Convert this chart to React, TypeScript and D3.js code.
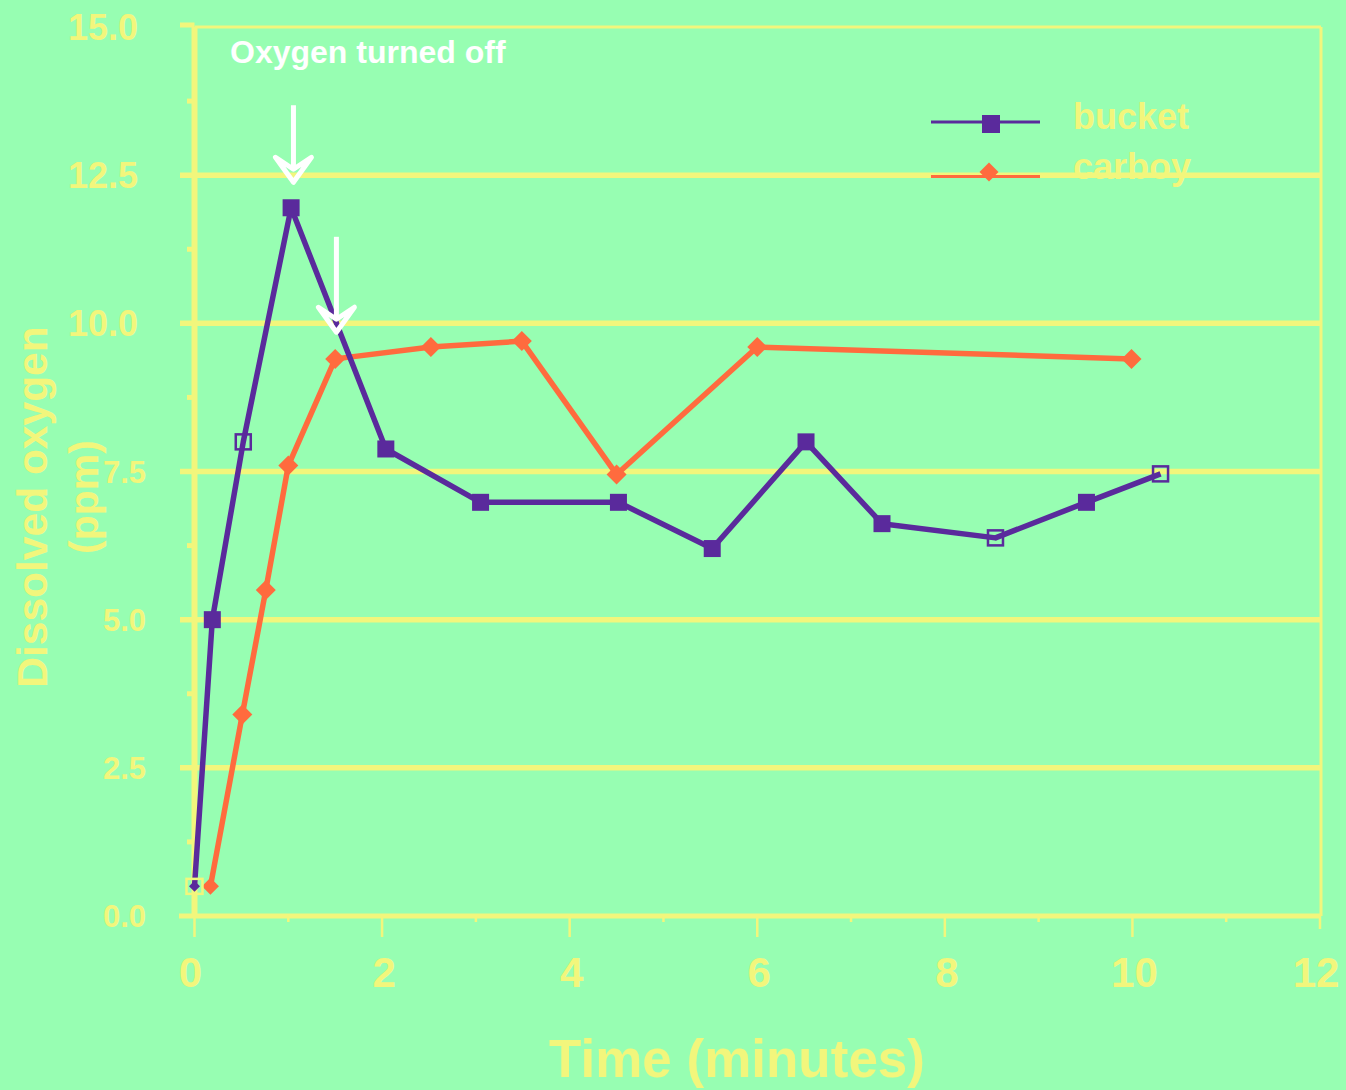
import React from "react";
import * as d3 from "d3";

// Dissolved oxygen readings (ppm) over time (minutes)
const bucketTimes = [0, 0.19, 0.52, 1.03, 2.04, 3.05, 4.52, 5.52, 6.52, 7.33, 8.54, 9.51, 10.3];
const bucketValues = [0.5, 5.0, 8.0, 11.95, 7.88, 6.98, 6.98, 6.2, 8.0, 6.62, 6.38, 6.98, 7.46];
const bucketMarkers = [
  "start", "filled", "hollow", "filled", "filled", "filled", "filled",
  "filled", "filled", "filled", "hollow", "filled", "hollow",
];

const carboyTimes = [0.17, 0.51, 0.76, 1.0, 1.5, 2.52, 3.49, 4.5, 6.0, 9.99];
const carboyValues = [0.5, 3.4, 5.5, 7.6, 9.4, 9.6, 9.7, 7.45, 9.6, 9.4];

const yTickValues = [0, 2.5, 5, 7.5, 10, 12.5, 15];
const yMinorValues = [1.25, 3.75, 6.25, 8.75, 11.25, 13.75];
const xTickValues = [0, 2, 4, 6, 8, 10, 12];
const xMinorValues = [1, 3, 5, 7, 9, 11];

const legendLabels = ["bucket", "carboy"];

// "Oxygen turned off" arrows: time, shaft top value, tip value
const arrowTimes = [1.055, 1.513];
const arrowTopValues = [13.68, 11.46];
const arrowTipValues = [12.38, 9.85];

const BG = "#97FEB2";
const YELLOW = "#F2F67C";
const PURPLE = "#5A2A9C";
const ORANGE = "#FF6B3E";
const FONT = "'Liberation Sans', Arial, Helvetica, sans-serif";

export default function App() {
  const width = 1346;
  const height = 1090;
  const x = d3.scaleLinear().domain([0, 12]).range([194.5, 1320]);
  const y = d3.scaleLinear().domain([0, 15]).range([916, 27]);

  const bucketPts: [number, number][] = bucketTimes.map((t, i) => [t, bucketValues[i]]);
  const carboyPts: [number, number][] = carboyTimes.map((t, i) => [t, carboyValues[i]]);
  const line = d3
    .line<[number, number]>()
    .x((d) => x(d[0]))
    .y((d) => y(d[1]));

  const diamond = (cx: number, cy: number, r: number) =>
    `M${cx},${cy - r}L${cx + r},${cy}L${cx},${cy + r}L${cx - r},${cy}Z`;

  const left = x(0);
  const right = x(12);
  const top = y(15);
  const bottom = y(0);

  return (
    <div style={{ position: "absolute", left: 0, top: 0, width, height, background: BG }}>
      <svg width={width} height={height} style={{ display: "block" }} fontFamily={FONT}>
        <rect x={0} y={0} width={width} height={height} fill={BG} />

        {/* horizontal gridlines with their left ticks */}
        {yTickValues
          .filter((v) => v > 0 && v < 15)
          .map((v) => (
            <line key={"g" + v} x1={180} x2={right} y1={y(v)} y2={y(v)} stroke={YELLOW} strokeWidth={5.5} />
          ))}
        {/* top tick and border */}
        <line x1={180} x2={left} y1={y(15) - 2} y2={y(15) - 2} stroke={YELLOW} strokeWidth={5} />
        <line x1={left} x2={right + 1} y1={top} y2={top} stroke={YELLOW} strokeWidth={3} />
        <line x1={right + 1} x2={right + 1} y1={top} y2={bottom} stroke={YELLOW} strokeWidth={3} />
        {yMinorValues.map((v) => (
          <line key={"ym" + v} x1={187} x2={left} y1={y(v)} y2={y(v)} stroke={YELLOW} strokeWidth={5} />
        ))}

        {/* axes */}
        <line x1={left} x2={left} y1={top} y2={bottom} stroke={YELLOW} strokeWidth={6} />
        <line x1={179} x2={right + 1} y1={bottom} y2={bottom} stroke={YELLOW} strokeWidth={5} />
        {xTickValues.map((v) => (
          <line
            key={"xt" + v}
            x1={x(v)}
            x2={x(v)}
            y1={bottom}
            y2={v === 12 ? 929 : 937}
            stroke={YELLOW}
            strokeWidth={2.5}
          />
        ))}
        {xMinorValues.map((v) => (
          <line key={"xm" + v} x1={x(v)} x2={x(v)} y1={bottom} y2={922} stroke={YELLOW} strokeWidth={2.5} />
        ))}

        {/* tick labels */}
        {yTickValues.map((v) => {
          const label = d3.format(".1f")(v);
          const big = label.length > 3;
          return (
            <text
              key={"yl" + v}
              x={big ? 138 : 146}
              y={y(v) + (big ? 13 : 11)}
              textAnchor="end"
              fontSize={big ? 36 : 31}
              fontWeight="bold"
              fill={YELLOW}
            >
              {label}
            </text>
          );
        })}
        {xTickValues.map((v) => (
          <text
            key={"xl" + v}
            x={x(v) - (v === 12 ? 4 : v === 0 ? 4 : -2)}
            y={987}
            textAnchor="middle"
            fontSize={42}
            fontWeight="bold"
            fill={YELLOW}
          >
            {v}
          </text>
        ))}

        {/* axis titles */}
        <text x={737} y={1077} textAnchor="middle" fontSize={53} fontWeight="bold" fill={YELLOW}>
          Time (minutes)
        </text>
        <text
          transform="translate(47,507) rotate(-90)"
          textAnchor="middle"
          fontSize={42.5}
          fontWeight="bold"
          fill={YELLOW}
        >
          Dissolved oxygen
        </text>
        <text
          transform="translate(98,497) rotate(-90)"
          textAnchor="middle"
          fontSize={41}
          fontWeight="bold"
          fill={YELLOW}
        >
          (ppm)
        </text>

        {/* legend */}
        <line x1={931} x2={1040} y1={122} y2={122} stroke={PURPLE} strokeWidth={3} />
        <rect x={982} y={115} width={18} height={18} fill={PURPLE} />
        <line x1={931} x2={1040} y1={176.5} y2={176.5} stroke={ORANGE} strokeWidth={3} />
        <path d={diamond(989, 172, 9.5)} fill={ORANGE} />
        {legendLabels.map((l, i) => (
          <text key={l} x={1073} y={129 + i * 50} fontSize={36} fontWeight="bold" fill={YELLOW}>
            {l}
          </text>
        ))}

        {/* series lines */}
        <path d={line(carboyPts) ?? ""} fill="none" stroke={ORANGE} strokeWidth={5.5} strokeLinejoin="round" />
        <path d={line(bucketPts) ?? ""} fill="none" stroke={PURPLE} strokeWidth={5.5} strokeLinejoin="round" />

        {/* carboy markers */}
        {carboyPts.map(([t, v], i) => (
          <path key={"c" + i} d={diamond(x(t), y(v), i === 0 ? 8.5 : 10)} fill={ORANGE} />
        ))}

        {/* bucket markers */}
        {bucketPts.map(([t, v], i) => {
          const cx = x(t);
          const cy = y(v);
          const kind = bucketMarkers[i];
          if (kind === "start") {
            return (
              <g key={"b" + i}>
                <rect x={cx - 8} y={cy - 7.5} width={16} height={15} fill="none" stroke={YELLOW} strokeWidth={2.5} />
                <path d={diamond(cx, cy, 5.5)} fill={PURPLE} />
              </g>
            );
          }
          if (kind === "hollow") {
            return (
              <rect
                key={"b" + i}
                x={cx - 7.5}
                y={cy - 7.5}
                width={15}
                height={15}
                fill="none"
                stroke={PURPLE}
                strokeWidth={2.5}
              />
            );
          }
          return <rect key={"b" + i} x={cx - 8.5} y={cy - 8.5} width={17} height={17} fill={PURPLE} />;
        })}

        {/* annotation */}
        <text x={230} y={63} fontSize={32} fontWeight="bold" fill="#FFFFFF">
          Oxygen turned off
        </text>
        {arrowTimes.map((t, i) => {
          const ax = x(t);
          const y0 = y(arrowTopValues[i]);
          const tip = y(arrowTipValues[i]);
          const notch = tip - 13;
          const wing = tip - 25;
          return (
            <g key={"a" + i} stroke="#FFFFFF" fill="none" strokeWidth={5} strokeLinejoin="round">
              <line x1={ax} x2={ax} y1={y0} y2={notch} />
              <path d={`M${ax - 18},${wing}L${ax},${notch}L${ax + 18},${wing}L${ax},${tip}Z`} />
            </g>
          );
        })}
      </svg>
    </div>
  );
}
